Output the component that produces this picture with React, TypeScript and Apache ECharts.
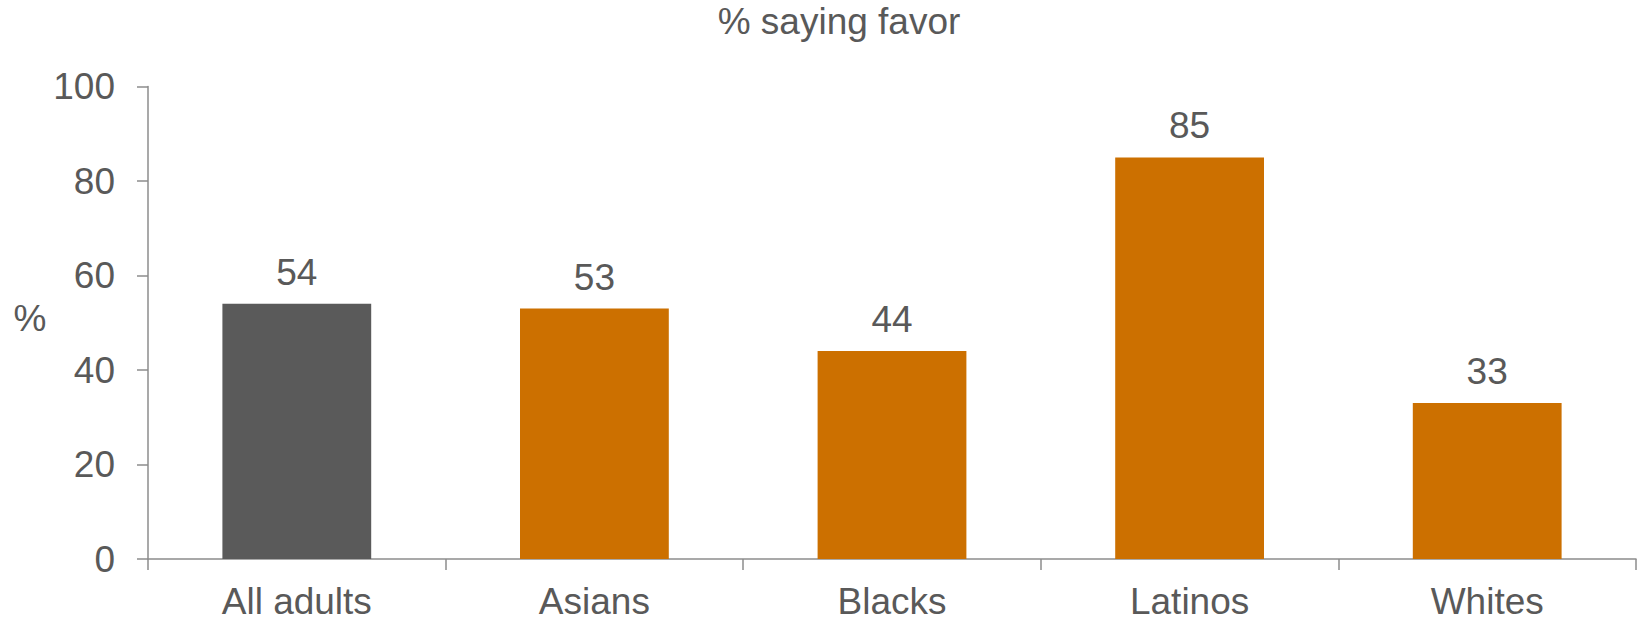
import React, { useEffect, useRef } from "react";
import * as echarts from "echarts";

const categories = ["All adults", "Asians", "Blacks", "Latinos", "Whites"];
const values = [54, 53, 44, 85, 33];
const yTicks = { min: 0, max: 100, interval: 20 };
const titleText = "% saying favor";
const axisUnit = "%";

const TEXT = "#595959";
const AXIS = "#8c8c8c";
const GRAY_BAR = "#5a5a5a";
const ORANGE = "#cc7000";
const FONT = "'Liberation Sans', Arial, sans-serif";
const FS = 37;

export default function App() {
  const ref = useRef<HTMLDivElement>(null);
  useEffect(() => {
    document.body.style.margin = "0";
    if (!ref.current) return;
    const chart = echarts.init(ref.current, undefined, { renderer: "svg" });
    chart.setOption({
      animation: false,
      backgroundColor: "#ffffff",
      textStyle: { fontFamily: FONT },
      grid: {
        left: 148,
        right: 4,
        top: 86.5,
        bottom: 62,
        containLabel: false,
        outerBoundsMode: "none",
      },
      graphic: [
        {
          type: "text",
          x: 839,
          y: 3,
          style: {
            text: titleText,
            fill: TEXT,
            font: `${FS}px ${FONT}`,
            textAlign: "center",
            textVerticalAlign: "top",
          },
        },
        {
          type: "text",
          x: 30,
          y: 318,
          style: {
            text: axisUnit,
            fill: TEXT,
            font: `${FS}px ${FONT}`,
            textAlign: "center",
            textVerticalAlign: "middle",
          },
        },
      ],
      xAxis: {
        type: "category",
        data: categories,
        axisLine: { show: true, lineStyle: { color: AXIS, width: 1.5 } },
        axisTick: { show: true, length: 11, alignWithLabel: false, lineStyle: { color: AXIS, width: 1.5 } },
        axisLabel: { color: TEXT, fontSize: FS, margin: 24, fontFamily: FONT },
        splitLine: { show: false },
      },
      yAxis: {
        type: "value",
        min: yTicks.min,
        max: yTicks.max,
        interval: yTicks.interval,
        axisLine: { show: true, lineStyle: { color: AXIS, width: 1.5 } },
        axisTick: { show: true, length: 11, lineStyle: { color: AXIS, width: 1.5 } },
        axisLabel: { color: TEXT, fontSize: FS, margin: 33, fontFamily: FONT },
        splitLine: { show: false },
      },
      series: [
        {
          type: "bar",
          barWidth: "50%",
          data: values.map((v, i) => ({
            value: v,
            itemStyle: { color: i === 0 ? GRAY_BAR : ORANGE },
          })),
          label: {
            show: true,
            position: "top",
            distance: 13,
            color: TEXT,
            fontSize: FS,
            fontFamily: FONT,
          },
        },
      ],
    });
    return () => chart.dispose();
  }, []);
  return <div ref={ref} style={{ width: 1640, height: 621 }} />;
}
